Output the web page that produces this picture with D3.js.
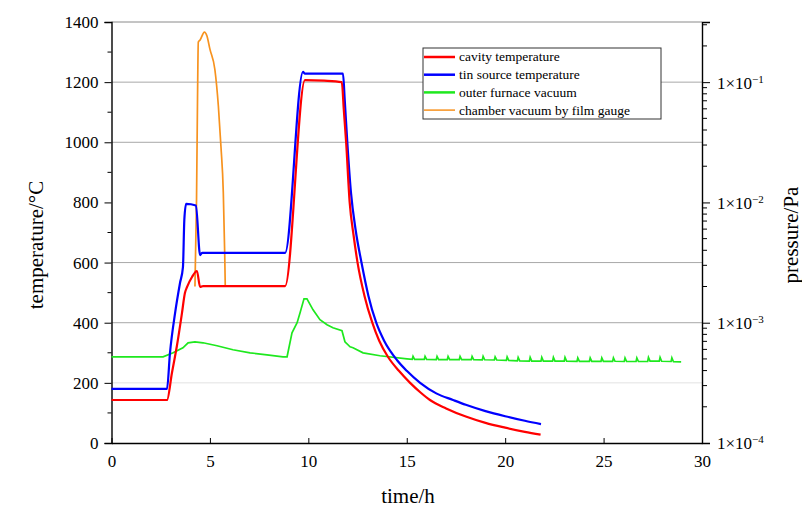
<!DOCTYPE html>
<html>
<head>
<meta charset="utf-8">
<script src="https://cdn.jsdelivr.net/npm/d3@7"></script>
<style>
  html, body { margin: 0; padding: 0; background: #fff; }
  svg { display: block; font-family: "Liberation Serif", "Times New Roman", serif; }
</style>
</head>
<body>
<div id="chart"></div>
<script>
// cavity temperature (°C) vs time (h)
const cavityTime = [0, 2.82, 3.07, 3.33, 3.58, 3.73, 3.84, 4.09, 4.34, 4.5, 4.65, 8.82, 9.83, 10.8, 11.7,
  11.8, 11.92, 12.1, 12.3, 12.5, 12.85, 13.25, 13.6, 14.05, 14.6, 15.17, 15.7, 16.18, 17, 18, 19, 20, 21, 21.8];
const cavityTemp = [143, 143, 233, 326, 432, 499, 519, 552, 572, 519, 522, 522, 1207, 1205, 1200,
  1110, 1000, 800, 690, 600, 490, 400, 340, 286, 240, 200, 168, 143, 115, 88, 67, 51, 37, 28];

// tin source temperature (°C)
const tinTime = [0, 2.82, 2.97, 3.23, 3.48, 3.63, 3.7, 3.79, 4.29, 4.5, 4.6, 8.82, 9.73, 9.83, 11.76,
  11.85, 11.98, 12.17, 12.4, 12.7, 13.05, 13.45, 13.85, 14.5, 15.0, 15.68, 16.5, 17.35, 18, 19, 20, 21, 21.82];
const tinTemp = [180, 180, 299, 432, 532, 585, 742, 795, 790, 625, 632, 632, 1234, 1228, 1228,
  1140, 1000, 830, 710, 600, 490, 400, 340, 276, 240, 200, 165, 143, 127, 106, 89, 74, 63];

// outer furnace vacuum (Pa), [time, pressure]
const outerVacuum = [
  [0, 5.2e-4], [1.96, 5.2e-4], [2.62, 5.2e-4], [3.13, 5.62e-4], [3.63, 6.19e-4], [3.89, 6.81e-4],
  [4.24, 6.94e-4], [4.65, 6.81e-4], [5.36, 6.43e-4], [6.17, 5.96e-4], [7.04, 5.62e-4], [7.9, 5.41e-4],
  [8.71, 5.21e-4], [8.92, 5.21e-4], [9.17, 8.25e-4], [9.43, 1.0e-3], [9.58, 1.21e-3], [9.78, 1.58e-3],
  [9.93, 1.58e-3], [10.24, 1.28e-3], [10.59, 1.06e-3], [10.95, 9.62e-4], [11.25, 9.09e-4], [11.71, 8.58e-4],
  [11.86, 6.94e-4], [12.12, 6.31e-4], [12.27, 6.19e-4], [12.78, 5.62e-4], [13.64, 5.31e-4], [15.01, 5.01e-4],
  [15.28, 4.96e-4], [15.32, 5.25e-4], [15.4, 4.96e-4], [15.89, 4.95e-4], [15.93, 5.25e-4], [16.01, 4.95e-4],
  [16.5, 4.94e-4], [16.54, 5.25e-4], [16.62, 4.94e-4], [17.06, 4.94e-4], [17.1, 5.25e-4], [17.18, 4.94e-4],
  [17.67, 4.94e-4], [17.71, 5.25e-4], [17.79, 4.94e-4], [18.28, 4.94e-4], [18.32, 5.25e-4], [18.4, 4.94e-4],
  [18.84, 4.92e-4], [18.88, 5.25e-4], [18.96, 4.92e-4], [19.45, 4.9e-4], [19.49, 5.2e-4], [19.57, 4.9e-4],
  [20.06, 4.86e-4], [20.1, 5.2e-4], [20.18, 4.86e-4], [20.62, 4.82e-4], [20.66, 5.15e-4], [20.74, 4.82e-4],
  [21.23, 4.8e-4], [21.27, 5.15e-4], [21.35, 4.8e-4], [21.82, 4.8e-4], [21.86, 5.15e-4], [21.94, 4.8e-4],
  [22.41, 4.8e-4], [22.45, 5.15e-4], [22.53, 4.8e-4], [23.0, 4.8e-4], [23.04, 5.15e-4], [23.12, 4.8e-4],
  [23.65, 4.78e-4], [23.69, 5.1e-4], [23.77, 4.78e-4], [24.28, 4.78e-4], [24.32, 5.1e-4], [24.4, 4.78e-4],
  [24.87, 4.78e-4], [24.91, 5.1e-4], [24.99, 4.78e-4], [25.46, 4.78e-4], [25.5, 5.1e-4], [25.58, 4.78e-4],
  [26.05, 4.76e-4], [26.09, 5.1e-4], [26.17, 4.76e-4], [26.65, 4.76e-4], [26.69, 5.1e-4], [26.77, 4.76e-4],
  [27.24, 4.76e-4], [27.28, 5.15e-4], [27.36, 4.8e-4], [27.83, 4.8e-4], [27.87, 5.15e-4], [27.95, 4.78e-4],
  [28.43, 4.76e-4], [28.47, 5.1e-4], [28.55, 4.74e-4], [28.94, 4.73e-4]
];

// chamber vacuum by film gauge (Pa)
const chamberTime = [4.24, 4.32, 4.37, 4.41, 4.5, 4.72, 4.85, 5.0, 5.25, 5.43, 5.56, 5.68, 5.75, 5.78];
const chamberPressure = [2.0e-3, 1.06e-2, 0.0721, 0.215, 0.224, 0.261, 0.242, 0.188, 0.128, 0.063, 0.0293, 0.0121, 3.83e-3, 2.0e-3];

const timeTicks = [0, 5, 10, 15, 20, 25, 30];
const tempTicks = [0, 200, 400, 600, 800, 1000, 1200, 1400];
const pressureTicks = [1e-4, 1e-3, 1e-2, 1e-1];
const pressureExp = ['\u22124', '\u22123', '\u22122', '\u22121'];
const gridTemps = [400, 600, 1000, 1200];
const legendNames = ['cavity temperature', 'tin source temperature', 'outer furnace vacuum', 'chamber vacuum by film gauge'];
const legendColors = ['#ff0000', '#0000ff', '#1ee81e', '#f7921e'];

const W = 802, H = 511;
const plot = { left: 111.5, right: 702, top: 22, bottom: 443 };

const svg = d3.select('#chart').append('svg').attr('width', W).attr('height', H);

const x = d3.scaleLinear().domain([0, 30]).range([plot.left, plot.right]);
const yT = d3.scaleLinear().domain([0, 1400]).range([plot.bottom, plot.top]);
const yP = d3.scaleLog().domain([1e-4, Math.pow(10, -0.5)]).range([plot.bottom, plot.top]);

// grid lines
svg.append('g')
  .selectAll('line')
  .data(gridTemps)
  .enter()
  .append('line')
  .attr('x1', plot.left).attr('x2', plot.right)
  .attr('y1', (d) => yT(d)).attr('y2', (d) => yT(d))
  .attr('stroke', '#a8a8a8').attr('stroke-width', 1);
svg.append('line')
  .attr('x1', plot.left).attr('x2', plot.right)
  .attr('y1', yT(200)).attr('y2', yT(200))
  .attr('stroke', '#e2e2e2').attr('stroke-width', 1);
svg.append('line')
  .attr('x1', plot.left).attr('x2', plot.right)
  .attr('y1', plot.top).attr('y2', plot.top)
  .attr('stroke', '#8a8a8a').attr('stroke-width', 1);

// left axis
const leftAxis = svg.append('g')
  .attr('transform', `translate(${plot.left},0)`)
  .call(d3.axisLeft(yT).tickValues(tempTicks).tickFormat(d3.format('d')).tickSize(7).tickPadding(6));
leftAxis.append('g')
  .selectAll('line')
  .data(d3.range(100, 1400, 200))
  .enter()
  .append('line')
  .attr('x1', -4).attr('x2', 0)
  .attr('y1', (d) => yT(d)).attr('y2', (d) => yT(d))
  .attr('stroke', '#000');

// bottom axis
const bottomAxis = svg.append('g')
  .attr('transform', `translate(0,${plot.bottom})`)
  .call(d3.axisBottom(x).tickValues(timeTicks).tickFormat(d3.format('d')).tickSizeInner(-5).tickSizeOuter(0).tickPadding(12));

// right axis (log)
const rightAxis = svg.append('g')
  .attr('transform', `translate(${plot.right},0)`)
  .call(d3.axisRight(yP).tickValues(pressureTicks).tickSize(8).tickFormat(() => '').tickPadding(6));
const minorP = [];
[1e-4, 1e-3, 1e-2, 1e-1].forEach((dec) => {
  for (let k = 2; k <= 9; k++) {
    if (dec * k <= Math.pow(10, -0.5)) minorP.push(dec * k);
  }
});
rightAxis.append('g')
  .selectAll('line')
  .data(minorP)
  .enter()
  .append('line')
  .attr('x1', 0).attr('x2', 5)
  .attr('y1', (d) => yP(d)).attr('y2', (d) => yP(d))
  .attr('stroke', '#000');
rightAxis.selectAll('.tick').each(function (d, i) {
  const t = d3.select(this).append('text')
    .attr('x', 15).attr('dy', '0.35em')
    .attr('fill', '#000')
    .attr('text-anchor', 'start');
  t.append('tspan').text('1\u00d710');
  t.append('tspan').attr('class', 'exp').attr('dy', '-0.55em').text(pressureExp[i]);
});

[leftAxis, bottomAxis, rightAxis].forEach((a) => {
  a.selectAll('path.domain').attr('stroke', '#000').attr('stroke-width', 1.4);
  a.selectAll('.tick line').attr('stroke', '#000');
  a.selectAll('text').style('font-family', '"Liberation Serif", serif').style('font-size', '17px');
});
rightAxis.selectAll('tspan.exp').style('font-size', '11px');

// axis titles
svg.append('text')
  .attr('text-anchor', 'middle')
  .attr('transform', `translate(43,245) rotate(-90)`)
  .style('font-size', '21px')
  .text('temperature/\u00b0C');
svg.append('text')
  .attr('text-anchor', 'middle')
  .attr('transform', `translate(798,235) rotate(-90)`)
  .style('font-size', '21px')
  .text('pressure/Pa');
svg.append('text')
  .attr('text-anchor', 'middle')
  .attr('x', 408).attr('y', 503)
  .style('font-size', '21px')
  .text('time/h');

// series
const tempLine = d3.line().x((d) => x(d[0])).y((d) => yT(d[1])).curve(d3.curveMonotoneX);
const presLine = d3.line().x((d) => x(d[0])).y((d) => yP(d[1]));

svg.append('path')
  .datum(outerVacuum)
  .attr('d', presLine)
  .attr('fill', 'none').attr('stroke', legendColors[2]).attr('stroke-width', 1.7);

svg.append('path')
  .datum(d3.zip(chamberTime, chamberPressure))
  .attr('d', presLine.curve(d3.curveMonotoneX))
  .attr('fill', 'none').attr('stroke', legendColors[3]).attr('stroke-width', 1.7);

svg.append('path')
  .datum(d3.zip(tinTime, tinTemp))
  .attr('d', tempLine)
  .attr('fill', 'none').attr('stroke', legendColors[1]).attr('stroke-width', 2.2);

svg.append('path')
  .datum(d3.zip(cavityTime, cavityTemp))
  .attr('d', tempLine)
  .attr('fill', 'none').attr('stroke', legendColors[0]).attr('stroke-width', 2.2);

// legend
const legend = svg.append('g');
legend.append('rect')
  .attr('x', 423).attr('y', 48).attr('width', 238).attr('height', 71)
  .attr('fill', '#fff').attr('stroke', '#333').attr('stroke-width', 1);
const rows = legend.selectAll('g.row')
  .data(legendNames)
  .enter()
  .append('g')
  .attr('class', 'row')
  .attr('transform', (d, i) => `translate(0,${57 + i * 17.7})`);
rows.append('line')
  .attr('x1', 424).attr('x2', 455)
  .attr('stroke', (d, i) => legendColors[i])
  .attr('stroke-width', (d, i) => (i === 3 ? 1.5 : 2.5));
rows.append('text')
  .attr('x', 459).attr('dy', '0.33em')
  .style('font-size', '13.5px')
  .text((d) => d);
</script>
</body>
</html>
